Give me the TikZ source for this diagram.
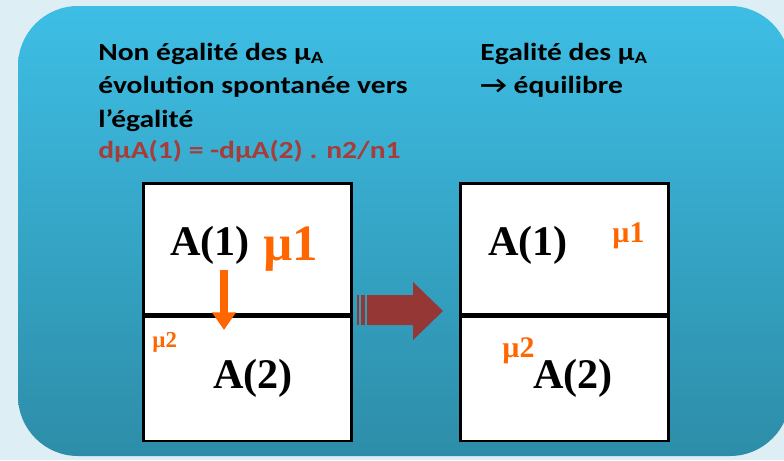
\documentclass[tikz,border=0pt]{standalone}
\usepackage{fontspec}
\setmainfont{Carlito}
\newfontfamily\headfont{Carlito}[FakeStretch=1.2]
\newfontfamily\timesfont{Liberation Serif}
\usetikzlibrary{arrows.meta}
\definecolor{pagebg}{HTML}{DDEEF4}
\definecolor{paneltop}{HTML}{3EBEE5}
\definecolor{panelbot}{HTML}{2D8DA8}
\definecolor{muorange}{HTML}{FF6600}
\definecolor{darkred}{HTML}{953735}
\definecolor{formula}{HTML}{A63D3B}

\begin{document}
\begin{tikzpicture}[
    x=0.02cm, y=-0.02cm,
    heading/.style={anchor=base west, inner sep=0pt,
        font=\headfont\fontsize{14}{18}\selectfont\bfseries},
    cell/.style={draw=black, line width=1.5pt, fill=white, minimum width=4.16cm,
        anchor=north west, inner sep=0pt},
    species/.style={anchor=base west, inner sep=0pt,
        font=\timesfont\bfseries\fontsize{24}{28}\selectfont},
    chempot/.style={anchor=base west, inner sep=0pt, text=muorange,
        font=\timesfont\bfseries\fontsize{#1}{#1}\selectfont},
    flux/.style={muorange, line width=4pt, -{Triangle[width=13pt,length=10pt]}}
]

% --- Page and rounded panel ---
\path[use as bounding box, fill=pagebg] (0,0) rectangle (784,460);
\shade[top color=paneltop, bottom color=panelbot, rounded corners=1.2cm]
    (18,6) rectangle (790,456);

% --- Headings ---
\node[heading] (neq1) at (98,60) {Non égalité des μ\textsubscript{A}};
\node[heading] (neq2) at (98,93) {évolution spontanée vers};
\node[heading] (neq3) at (98,127) {l’égalité};
\node[heading, text=formula] (neq4) at (98,158) {dμA(1) = -dμA(2) . n2/n1};
\node[heading] (eq1) at (480,60) {Egalité des μ\textsubscript{A}};
\node[heading] (eq2) at (480,93) {→ équilibre};

% --- Left container: two compartments out of equilibrium ---
\node[cell, minimum height=2.62cm] (lefttop) at (142,182) {};
\node[cell, minimum height=2.48cm] (leftbot) at (lefttop.south west) {};
\node[species] (la1) at (170,255) {A(1)};
\node[chempot=29] (lmu1) at (263,260) {µ1};
\node[chempot=13] (lmu2) at (152,347) {µ2};
\node[species] (la2) at (213,388) {A(2)};
\coordinate (fluxstart) at (224,270);
\coordinate (fluxend) at (224,330);
\draw[flux] (fluxstart) -- (fluxend);

% --- Striped arrow towards equilibrium ---
\fill[darkred] (357,295) rectangle (359,325);
\fill[darkred] (361,295) rectangle (365,325);
\fill[darkred] (367,295) -- (413,295) -- (413,282) -- (443,311)
    -- (413,340) -- (413,325) -- (367,325) -- cycle;

% --- Right container: equilibrium ---
\node[cell, minimum height=2.62cm] (righttop) at (459,182) {};
\node[cell, minimum height=2.48cm] (rightbot) at (righttop.south west) {};
\node[species] (ra1) at (488,255) {A(1)};
\node[chempot=17] (rmu1) at (612,242) {µ1};
\node[chempot=17] (rmu2) at (502,357) {µ2};
\node[species] (ra2) at (533,388) {A(2)};

\end{tikzpicture}
\end{document}
